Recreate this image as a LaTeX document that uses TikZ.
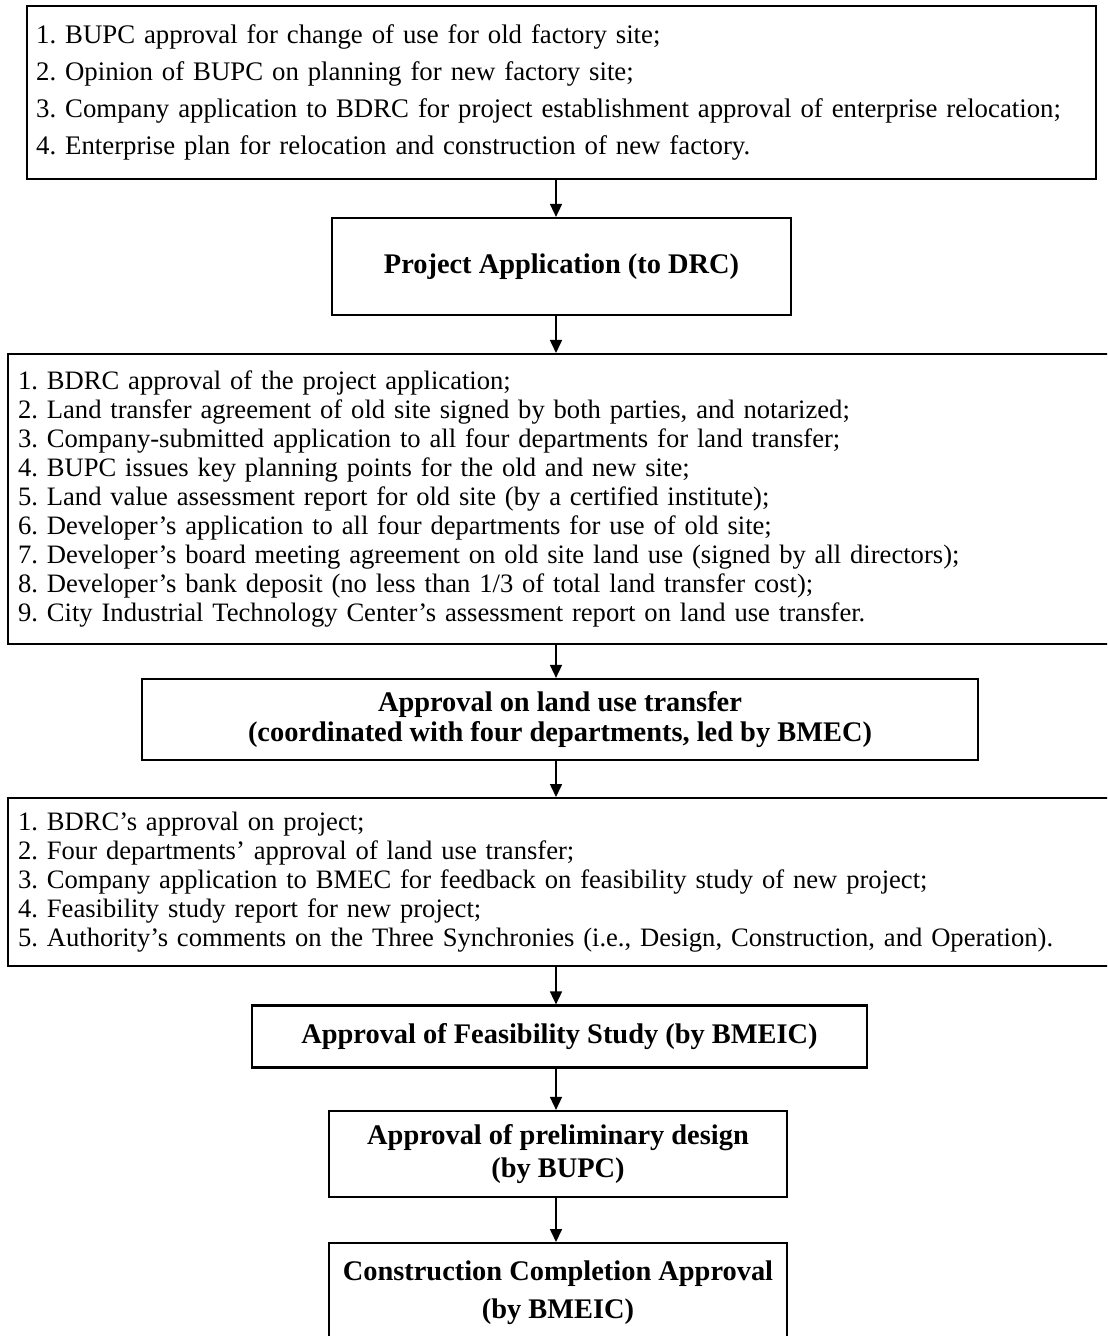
\documentclass[tikz,border=0pt]{standalone}
\usepackage{fontspec}
\setmainfont{Liberation Serif}
\usetikzlibrary{arrows.meta, positioning}

\begin{document}
\frenchspacing
\begin{tikzpicture}[
  x=0.5pt, y=-0.5pt,
  riquadro/.style={draw=black, line width=1.1pt, inner sep=0pt, align=center,
                   font=\fontsize{14.2}{15}\selectfont\bfseries},
  elenco/.style={draw=black, line width=1.1pt, inner xsep=5pt, inner ysep=0pt,
                 align=left, anchor=north west, font=\fontsize{13.3}{14.5}\selectfont},
  freccia/.style={draw=black, line width=0.8pt, -{Triangle[length=6.5pt,width=6pt]}}
]
\useasboundingbox (0,0) rectangle (1107,1336);
\clip (0,0) rectangle (1107,1336);

% ---- asse verticale delle frecce
\coordinate (asse) at (556,0);

% ---- documenti iniziali ----------------------------------------------
\node[elenco, inner xsep=4.5pt, minimum width=534.5pt, minimum height=86.5pt,
      text width=525.5pt, font=\fontsize{13.4}{18.5}\selectfont] (elenco1) at (26,5)
  {1. BUPC approval for change of use for old factory site;\\
   2. Opinion of BUPC on planning for new factory site;\\
   3. Company application to BDRC for project establishment approval of enterprise relocation;\\
   4. Enterprise plan for relocation and construction of new factory.};

\node[riquadro, minimum width=229.5pt, minimum height=48.5pt] (domanda) at (561.5,266.5)
  {Project Application (to DRC)};

% ---- documenti per il trasferimento del terreno ----------------------
\node[elenco, minimum width=556.5pt, minimum height=145pt, text width=546.5pt] (elenco2) at (7,353)
  {1. BDRC approval of the project application;\\
   2. Land transfer agreement of old site signed by both parties, and notarized;\\
   3. Company-submitted application to all four departments for land transfer;\\
   4. BUPC issues key planning points for the old and new site;\\
   5. Land value assessment report for old site (by a certified institute);\\
   6. Developer's application to all four departments for use of old site;\\
   7. Developer's board meeting agreement on old site land use (signed by all directors);\\
   8. Developer's bank deposit (no less than 1/3 of total land transfer cost);\\
   9. City Industrial Technology Center's assessment report on land use transfer.};

\node[riquadro, minimum width=418pt, minimum height=40.5pt] (terreno) at (560,719.5)
  {Approval on land use transfer\\(coordinated with four departments, led by BMEC)};

% ---- documenti per lo studio di fattibilita' -------------------------
\node[elenco, minimum width=556.5pt, minimum height=84pt, text width=546.5pt] (elenco3) at (7,797)
  {1. BDRC's approval on project;\\
   2. Four departments' approval of land use transfer;\\
   3. Company application to BMEC for feedback on feasibility study of new project;\\
   4. Feasibility study report for new project;\\
   5. Authority's comments on the Three Synchronies (i.e., Design, Construction, and Operation).};

% ---- approvazioni finali ---------------------------------------------
\node[riquadro, minimum width=307.5pt, minimum height=31pt] (fattibilita) at (559.5,1036.5)
  {Approval of Feasibility Study (by BMEIC)};
\node[riquadro, minimum width=229pt, minimum height=43pt, font=\fontsize{14.2}{16.5}\selectfont\bfseries]
  (progetto) at (558,1154)
  {Approval of preliminary design\\(by BUPC)};
\node[riquadro, anchor=north, minimum width=229pt, minimum height=50pt,
      font=\fontsize{14.2}{19}\selectfont\bfseries] (collaudo) at (558,1242)
  {Construction Completion Approval\\(by BMEIC)};

% ---- frecce ------------------------------------------------------------
\draw[freccia] (elenco1.south -| asse) -- (domanda.north -| asse);
\draw[freccia] (domanda.south -| asse) -- (elenco2.north -| asse);
\draw[freccia] (elenco2.south -| asse) -- (terreno.north -| asse);
\draw[freccia] (terreno.south -| asse) -- (elenco3.north -| asse);
\draw[freccia] (elenco3.south -| asse) -- (fattibilita.north -| asse);
\draw[freccia] (fattibilita.south -| asse) -- (progetto.north -| asse);
\draw[freccia] (progetto.south -| asse) -- (collaudo.north -| asse);

\end{tikzpicture}
\end{document}
